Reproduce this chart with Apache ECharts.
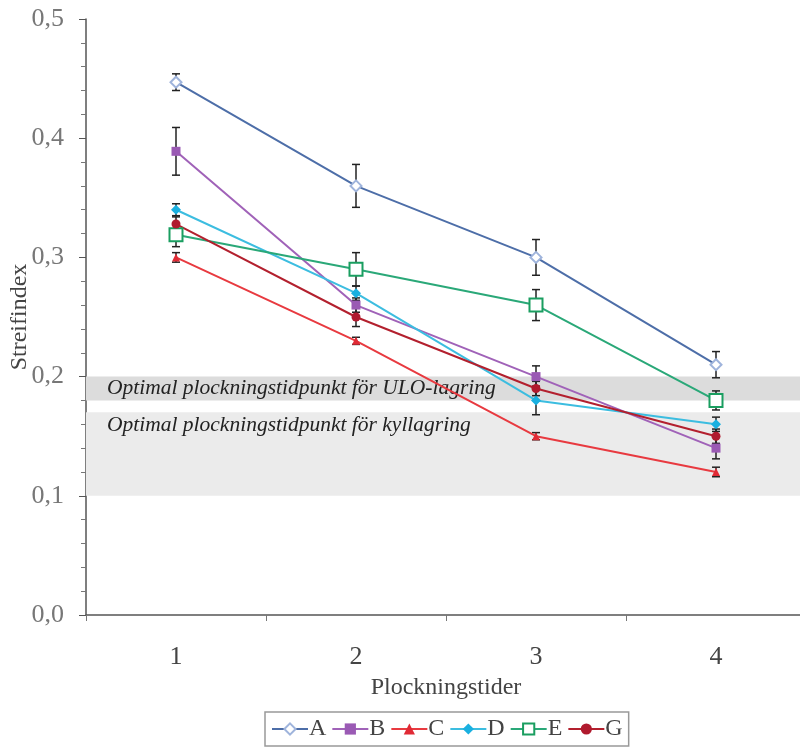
<!DOCTYPE html>
<html><head><meta charset="utf-8">
<script src="https://cdn.jsdelivr.net/npm/echarts@6/dist/echarts.min.js"></script>
<style>html,body{margin:0;padding:0;background:#fff}#c{width:800px;height:753px}</style>
</head><body><div id="c"></div>
<script>
const categories = ['1', '2', '3', '4'];
const seriesNames = ['A', 'B', 'C', 'D', 'E', 'G'];
const A = [0.447, 0.36, 0.30, 0.21];
const B = [0.389, 0.26, 0.20, 0.14];
const C = [0.30, 0.23, 0.15, 0.12];
const D = [0.34, 0.27, 0.18, 0.16];
const E = [0.319, 0.29, 0.26, 0.18];
const G = [0.328, 0.25, 0.19, 0.15];
const errA = [0.007, 0.018, 0.015, 0.011];
const errB = [0.02, 0.006, 0.009, 0.009];
const errC = [0.004, 0.003, 0.003, 0.004];
const errD = [0.005, 0.006, 0.012, 0.006];
const errE = [0.01, 0.014, 0.013, 0.008];
const errG = [0.006, 0.008, 0.006, 0.006];
const yTicks = [0, 0.1, 0.2, 0.3, 0.4, 0.5];
const bandULO = [0.18, 0.20];
const bandKyl = [0.10, 0.17];
const bandULOText = 'Optimal plockningstidpunkt för ULO-lagring';
const bandKylText = 'Optimal plockningstidpunkt för kyllagring';

const values = [A, B, C, D, E, G];
const errs = [errA, errB, errC, errD, errE, errG];
const styles = [
  {color: '#4d6ea8', symbol: 'emptyDiamond', size: 11, mcolor: '#9fb4dc', bw: 1.5},
  {color: '#a062b8', symbol: 'rect', size: 9, mcolor: '#9a5ab4', bw: 0},
  {color: '#e83a40', symbol: 'triangle', size: 8, mcolor: '#e02a35', bw: 0},
  {color: '#3cbde0', symbol: 'diamond', size: 10, mcolor: '#1ab0e0', bw: 0},
  {color: '#2aa878', symbol: 'emptyRect', size: 13, mcolor: '#1a9e60', bw: 2},
  {color: '#b3202e', symbol: 'circle', size: 9, mcolor: '#b01a2e', bw: 0}
];
const font = 'Liberation Serif, Times New Roman, serif';

const series = [];
series.push({
  type: 'line', name: 'bands', data: [], z: 0, silent: true,
  markArea: {
    silent: true,
    data: [
      [{yAxis: bandULO[0], itemStyle: {color: '#dcdcdc'},
        label: {show: true, formatter: bandULOText, position: 'insideLeft', distance: 21}},
       {yAxis: bandULO[1]}],
      [{yAxis: bandKyl[0], itemStyle: {color: '#ebebeb'},
        label: {show: true, formatter: bandKylText, position: 'insideTopLeft', distance: 2, offset: [19, 0]}},
       {yAxis: bandKyl[1]}]
    ],
    label: {fontFamily: font, fontStyle: 'italic', fontSize: 21.5, color: '#222'}
  }
});
const errData = [];
values.forEach((vals, si) => {
  vals.forEach((v, i) => errData.push([i, v - errs[si][i], v + errs[si][i]]));
});
series.push({
  type: 'custom', name: 'err', z: 1, silent: true,
  renderItem: function (params, api) {
    const lo = api.coord([api.value(0), api.value(1)]);
    const hi = api.coord([api.value(0), api.value(2)]);
    const w = 4;
    const st = {stroke: '#222', lineWidth: 1.5};
    return {type: 'group', children: [
      {type: 'line', shape: {x1: lo[0], y1: lo[1], x2: hi[0], y2: hi[1]}, style: st},
      {type: 'line', shape: {x1: lo[0] - w, y1: lo[1], x2: lo[0] + w, y2: lo[1]}, style: st},
      {type: 'line', shape: {x1: hi[0] - w, y1: hi[1], x2: hi[0] + w, y2: hi[1]}, style: st}
    ]};
  },
  data: errData
});
values.forEach((vals, si) => {
  const s = styles[si];
  series.push({
    type: 'line', name: seriesNames[si], data: vals, z: 3,
    symbol: s.symbol, symbolSize: s.size,
    lineStyle: {color: s.color, width: 2},
    itemStyle: {color: s.mcolor, borderColor: s.mcolor, borderWidth: s.bw},
    emphasis: {disabled: true}
  });
});

const chart = echarts.init(document.getElementById('c'));
chart.setOption({
  animation: false,
  backgroundColor: '#fff',
  grid: {left: 86, right: -6, top: 19, bottom: 138, containLabel: false, outerBoundsMode: 'none'},
  xAxis: {
    type: 'category', data: categories, boundaryGap: true,
    name: 'Plockningstider', nameLocation: 'middle', nameGap: 61, nameMoveOverlap: false,
    nameTextStyle: {fontFamily: font, fontSize: 24, color: '#444'},
    axisLine: {lineStyle: {color: '#555', width: 1.5}},
    axisTick: {show: true, length: 6, inside: false, lineStyle: {color: '#777'}},
    axisLabel: {fontFamily: font, fontSize: 26, color: '#444', margin: 29},
    splitLine: {show: false}
  },
  yAxis: {
    type: 'value', min: 0, max: 0.5, interval: 0.1,
    name: 'Streifindex', nameLocation: 'middle', nameGap: 54, nameMoveOverlap: false,
    nameTextStyle: {fontFamily: font, fontSize: 24, color: '#444'},
    axisLine: {show: true, lineStyle: {color: '#555', width: 1.5}},
    axisTick: {show: true, length: 7, lineStyle: {color: '#555'}},
    minorTick: {show: true, splitNumber: 5, length: 5, lineStyle: {color: '#777'}},
    axisLabel: {fontFamily: font, fontSize: 26, color: '#777', margin: 22,
      formatter: v => {
        const t = yTicks.find(x => Math.abs(x - v) < 1e-9);
        return (t !== undefined ? t : v).toFixed(1).replace('.', ',');
      }},
    splitLine: {show: false}
  },
  legend: {
    data: seriesNames, bottom: 7, left: 265,
    itemWidth: 36, itemHeight: 14, itemGap: 5,
    borderColor: '#999', borderWidth: 1.5, padding: [5, 6, 5, 6],
    textStyle: {fontFamily: font, fontSize: 24, color: '#444', padding: [0, 0, 0, -4]}
  },
  series: series
});
</script></body></html>
